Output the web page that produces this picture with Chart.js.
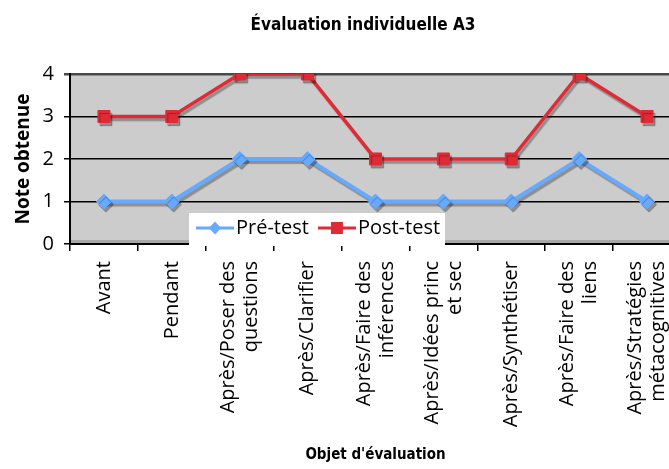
<!DOCTYPE html>
<html>
<head>
<meta charset="utf-8">
<script src="https://cdn.jsdelivr.net/npm/chart.js@4/dist/chart.umd.min.js"></script>
<style>
  html, body { margin: 0; padding: 0; background: #fff; overflow: hidden; width: 669px; height: 469px; }
  canvas { display: block; }
</style>
</head>
<body>
<canvas id="c" width="726" height="469"></canvas>
<script>
// ---- data ----
const categories = [
  "Avant",
  "Pendant",
  ["Après/Poser des", "questions"],
  "Après/Clarifier",
  ["Après/Faire des", "inférences"],
  ["Après/Idées princ", "et sec"],
  "Après/Synthétiser",
  ["Après/Faire des", "liens"],
  ["Après/Stratégies", "métacognitives"]
];
const preTest  = [1, 1, 2, 2, 1, 1, 1, 2, 1];
const postTest = [3, 3, 4, 4, 2, 2, 2, 4, 3];
const seriesNames = ["Pré-test", "Post-test"];
const yTickValues = [0, 1, 2, 3, 4];
const chartTitle = "Évaluation individuelle A3";
const xAxisTitle = "Objet d'évaluation";
const yAxisTitle = "Note obtenue";

// ---- styles ----
const BLUE = '#66aaff';
const RED = '#e02b36';
const SANS = "'Open Sans', 'DejaVu Sans', sans-serif";
const NARROW = "'Liberation Sans Narrow', 'DejaVu Sans Condensed', 'Liberation Sans', sans-serif";

function legendSwatch(color, shape) {
  const c = document.createElement('canvas');
  c.width = 38; c.height = 20;
  const g = c.getContext('2d');
  g.strokeStyle = color; g.lineWidth = 3;
  g.beginPath(); g.moveTo(0, 10); g.lineTo(38, 10); g.stroke();
  g.fillStyle = color; g.beginPath();
  if (shape === 'diamond') {
    g.moveTo(19, 3.5); g.lineTo(25, 10); g.lineTo(19, 16.5); g.lineTo(13, 10); g.closePath();
  } else {
    g.rect(13, 4, 12, 12);
  }
  g.fill();
  return c;
}
const swatches = [legendSwatch(BLUE, 'diamond'), legendSwatch(RED, 'square')];

const plotBg = {
  id: 'plotBg',
  beforeDraw(chart) {
    const { ctx, chartArea: a } = chart;
    ctx.save();
    ctx.fillStyle = '#cccccc';
    ctx.fillRect(a.left, a.top, a.right - a.left, a.bottom - a.top);
    ctx.fillStyle = '#a8a8a8';
    ctx.fillRect(a.left, a.bottom - 4, a.right - a.left, 3);
    ctx.restore();
  }
};

const lineShadow = {
  id: 'lineShadow',
  beforeDatasetDraw(chart) {
    const c = chart.ctx;
    c.save();
    c.shadowColor = 'rgba(0,0,0,0.3)';
    c.shadowOffsetX = 2;
    c.shadowOffsetY = 3;
    c.shadowBlur = 1;
  },
  afterDatasetDraw(chart) { chart.ctx.restore(); }
};

const legendPlacer = {
  id: 'legendPlacer',
  beforeLayout(chart) {
    const lg = chart.legend;
    if (!lg) return;
    lg.isHorizontal = () => true;
    if (!lg._wrapped) {
      const orig = lg.draw;
      lg.draw = function (area) {
        const c = this.ctx, a = chart.chartArea;
        c.save();
        c.fillStyle = '#ffffff';
        c.fillRect(a.left + 119, a.top + 139, 256, 33);
        c.restore();
        orig.call(this, area);
      };
      lg._wrapped = true;
    }
  },
  afterLayout(chart) {
    const lg = chart.legend, a = chart.chartArea;
    if (!lg) return;
    lg.left = a.left + 117;
    lg.right = a.left + 420;
    lg.top = a.bottom - 43;
    lg.bottom = a.bottom;
    lg.width = lg.right - lg.left;
    lg.height = lg.bottom - lg.top;
  }
};

new Chart(document.getElementById('c'), {
  type: 'line',
  data: {
    labels: categories,
    datasets: [
      {
        label: seriesNames[0], data: preTest,
        borderColor: BLUE, backgroundColor: BLUE, borderWidth: 4,
        pointStyle: 'rectRot', pointRadius: 7.5, pointBorderWidth: 1,
        pointBackgroundColor: BLUE, pointBorderColor: BLUE, tension: 0, fill: false
      },
      {
        label: seriesNames[1], data: postTest,
        borderColor: RED, backgroundColor: RED, borderWidth: 3.5,
        pointStyle: 'rect', pointRadius: 8.5, pointBorderWidth: 1,
        pointBackgroundColor: RED, pointBorderColor: RED, tension: 0, fill: false
      }
    ]
  },
  options: {
    responsive: false,
    animation: false,
    devicePixelRatio: 1,
    layout: { padding: { left: 8, right: 8, top: 0, bottom: 0 } },
    plugins: {
      title: {
        display: true, text: chartTitle, color: '#000',
        font: { family: NARROW, size: 17, weight: 'bold' },
        padding: { top: 15.8, bottom: 37.8 }
      },
      legend: {
        position: 'chartArea', align: 'start',
        labels: {
          usePointStyle: true, pointStyleWidth: 22, padding: 17, color: '#000',
          font: { family: SANS, size: 20 },
          generateLabels: (chart) => Chart.defaults.plugins.legend.labels.generateLabels(chart)
            .map((it, i) => Object.assign({}, it, { pointStyle: swatches[i], lineWidth: 0 }))
        }
      },
      tooltip: { enabled: false }
    },
    scales: {
      x: {
        offset: true,
        grid: { offset: true, drawOnChartArea: false, color: '#000', tickLength: 7, lineWidth: 1.5 },
        border: { color: '#000', width: 2, z: -1 },
        ticks: {
          autoSkip: false, minRotation: 90, maxRotation: 90, padding: 10, color: '#000',
          font: { family: SANS, size: 20, lineHeight: 1.15 },
          labelOffset: -11.5,
          showLabelBackdrop: (c) => !Array.isArray(categories[c.index]),
          backdropColor: 'rgba(0,0,0,0)', backdropPadding: 0
        },
        title: {
          display: true, text: xAxisTitle, color: '#000',
          font: { family: NARROW, size: 15, weight: 'bold' },
          padding: { top: 0, bottom: 5 }
        },
        afterFit: (s) => { s.height = 225; }
      },
      y: {
        min: yTickValues[0], max: yTickValues[yTickValues.length - 1],
        afterBuildTicks: (s) => { s.ticks = yTickValues.map(v => ({ value: v })); },
        ticks: { stepSize: 1, padding: 10, color: '#000', font: { family: SANS, size: 20 } },
        grid: {
          color: (c) => (c.tick && c.tick.value === 4 ? '#4a4a4a' : '#000'),
          lineWidth: (c) => (c.tick && c.tick.value === 4 ? 2.5 : 1.5),
          tickLength: 6
        },
        border: { color: '#000', width: 2 },
        title: {
          display: true, text: yAxisTitle, color: '#000',
          font: { family: SANS, size: 19, weight: 'bold' },
          padding: { top: 4, bottom: 8 }
        },
        afterFit: (s) => { s.width = 62; }
      },
      yRight: {
        position: 'right', display: true, min: 0, max: 4,
        grid: { display: false, drawTicks: false },
        border: { display: false },
        ticks: { display: false },
        afterFit: (s) => { s.width = 37; }
      }
    }
  },
  plugins: [plotBg, lineShadow, legendPlacer]
});
</script>
</body>
</html>
